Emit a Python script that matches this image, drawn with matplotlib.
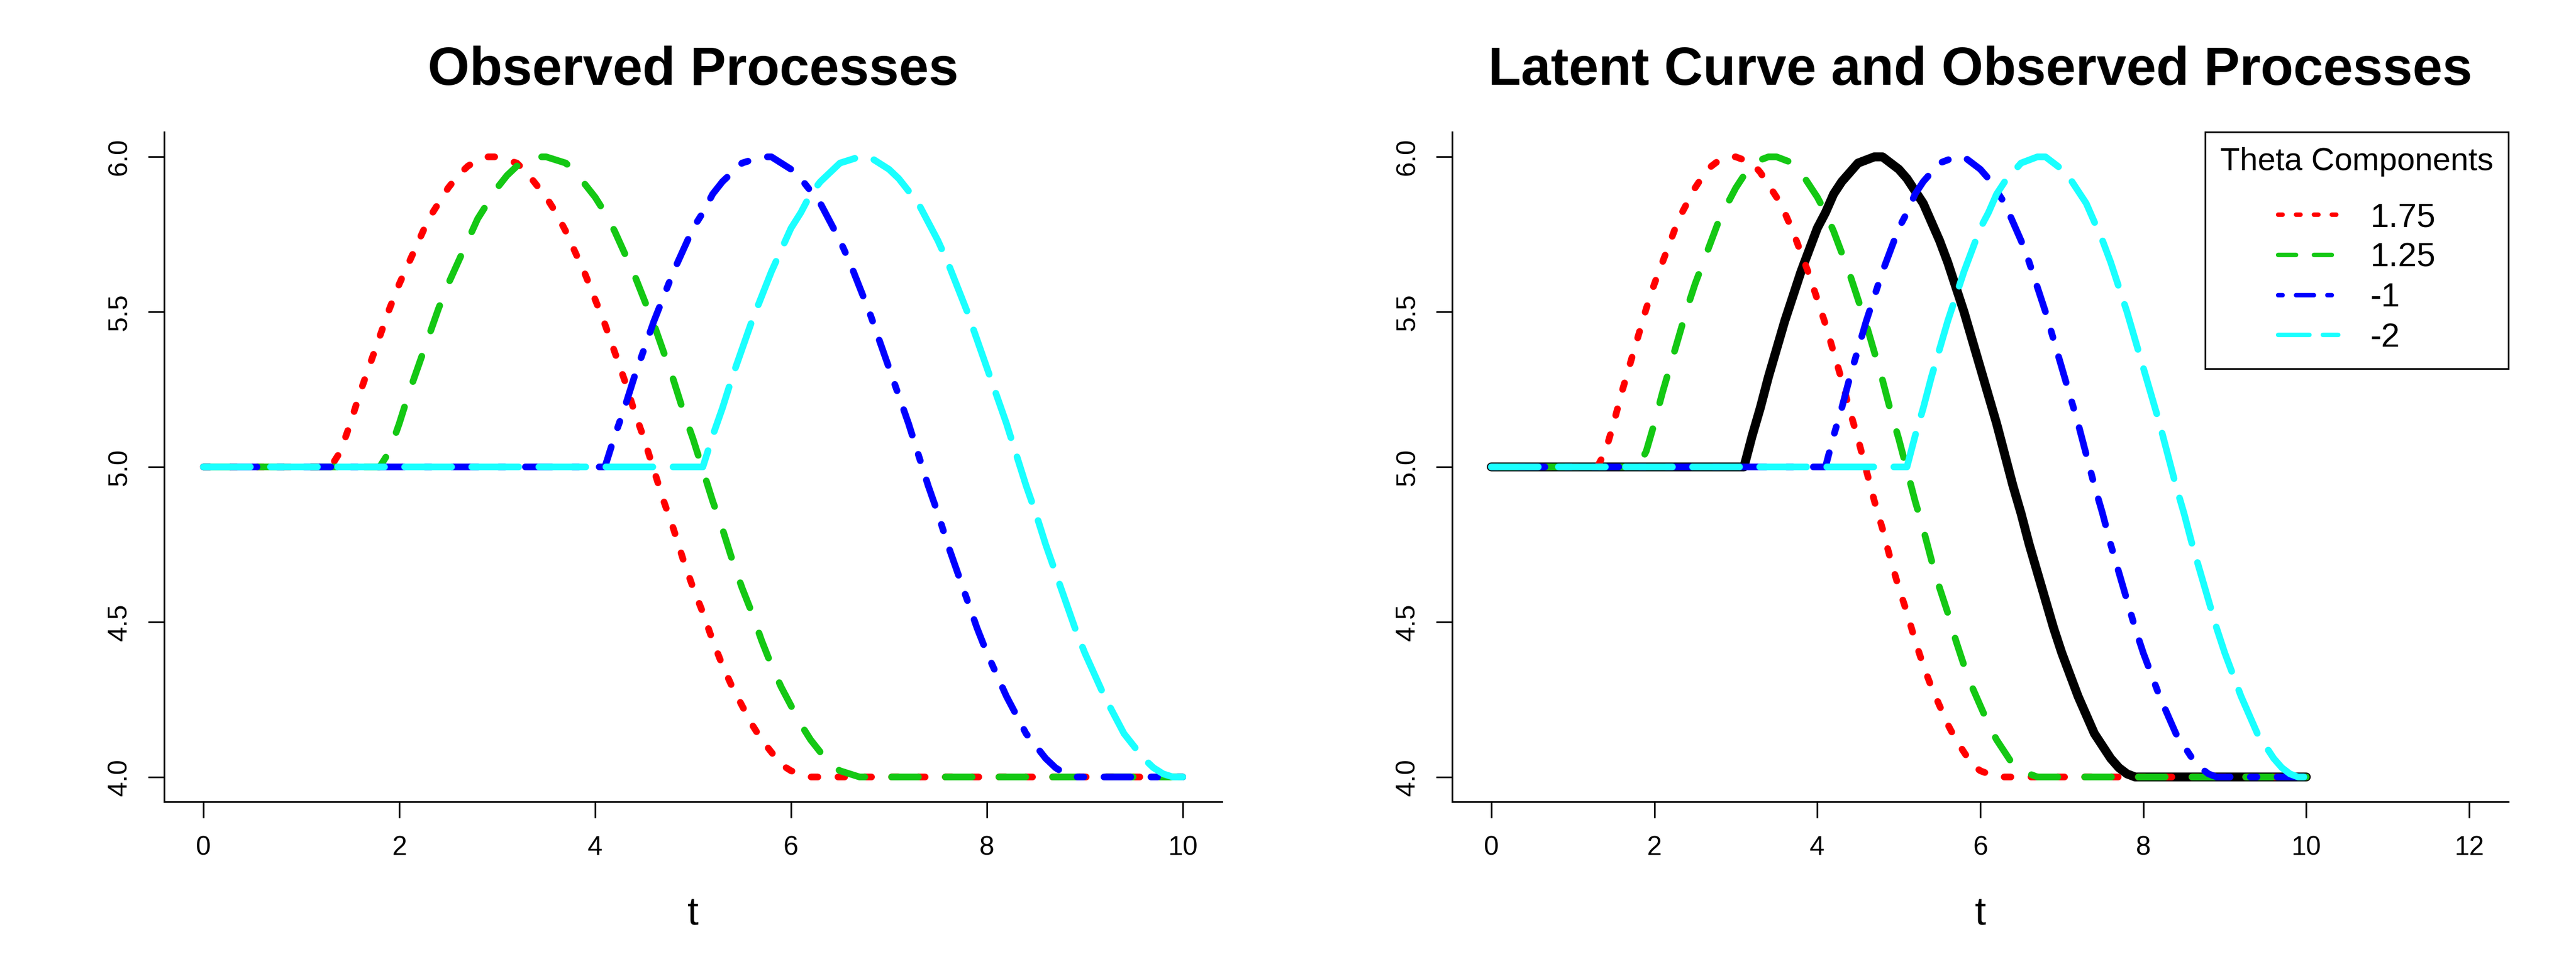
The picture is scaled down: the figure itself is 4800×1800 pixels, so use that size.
import matplotlib
matplotlib.use('Agg')
import matplotlib.pyplot as plt
from matplotlib.lines import Line2D

plt.rcParams['font.family'] = ['Liberation Sans', 'DejaVu Sans']

# time grid (step 0.1) and curve values
t_grid = [0.0, 0.1, 0.2, 0.3, 0.4, 0.5, 0.6, 0.7, 0.8, 0.9,
          1.0, 1.1, 1.2, 1.3, 1.4, 1.5, 1.6, 1.7, 1.8, 1.9,
          2.0, 2.1, 2.2, 2.3, 2.4, 2.5, 2.6, 2.7, 2.8, 2.9,
          3.0, 3.1, 3.2, 3.3, 3.4, 3.5, 3.6, 3.7, 3.8, 3.9,
          4.0, 4.1, 4.2, 4.3, 4.4, 4.5, 4.6, 4.7, 4.8, 4.9,
          5.0, 5.1, 5.2, 5.3, 5.4, 5.5, 5.6, 5.7, 5.8, 5.9,
          6.0, 6.1, 6.2, 6.3, 6.4, 6.5, 6.6, 6.7, 6.8, 6.9,
          7.0, 7.1, 7.2, 7.3, 7.4, 7.5, 7.6, 7.7, 7.8, 7.9,
          8.0, 8.1, 8.2, 8.3, 8.4, 8.5, 8.6, 8.7, 8.8, 8.9,
          9.0, 9.1, 9.2, 9.3, 9.4, 9.5, 9.6, 9.7, 9.8, 9.9, 10.0]

# latent curve (black)
latent = [5.0] * 32 + [5.10, 5.19, 5.29, 5.38, 5.47, 5.55, 5.63, 5.70, 5.77, 5.82,
                       5.88, 5.92, 5.95, 5.98, 5.99, 6.00, 6.00, 5.98, 5.96, 5.93,
                       5.89, 5.85, 5.79, 5.73, 5.66, 5.58, 5.50, 5.41, 5.32, 5.23,
                       5.14, 5.04, 4.94, 4.85, 4.75, 4.66, 4.57, 4.48, 4.40, 4.33,
                       4.26, 4.20, 4.14, 4.10, 4.06, 4.03, 4.01] + [4.0] * 22

# observed processes, theta = 1.75, 1.25, -1, -2
obs_175 = [5.0] * 14 + [5.05, 5.14, 5.24, 5.33, 5.42, 5.51, 5.59, 5.66, 5.73, 5.80,
                        5.85, 5.90, 5.94, 5.97, 5.99, 6.00, 6.00, 5.99, 5.98, 5.95,
                        5.91, 5.87, 5.82, 5.76, 5.69, 5.62, 5.54, 5.46, 5.37, 5.28,
                        5.18, 5.09, 4.99, 4.89, 4.80, 4.70, 4.61, 4.53, 4.44, 4.36,
                        4.29, 4.23, 4.17, 4.12, 4.08, 4.04, 4.02, 4.01] + [4.0] * 39

obs_125 = [5.0] * 19 + [5.05, 5.14, 5.24, 5.33, 5.42, 5.51, 5.59, 5.66, 5.73, 5.80,
                        5.85, 5.90, 5.94, 5.97, 5.99, 6.00, 6.00, 5.99, 5.98, 5.95,
                        5.91, 5.87, 5.82, 5.76, 5.69, 5.62, 5.54, 5.46, 5.37, 5.28,
                        5.18, 5.09, 4.99, 4.89, 4.80, 4.70, 4.61, 4.53, 4.44, 4.36,
                        4.29, 4.23, 4.17, 4.12, 4.08, 4.04, 4.02, 4.01] + [4.0] * 34

obs_m1 = [5.0] * 42 + [5.10, 5.19, 5.29, 5.38, 5.47, 5.55, 5.63, 5.70, 5.77, 5.82,
                       5.88, 5.92, 5.95, 5.98, 5.99, 6.00, 6.00, 5.98, 5.96, 5.93,
                       5.89, 5.85, 5.79, 5.73, 5.66, 5.58, 5.50, 5.41, 5.32, 5.23,
                       5.14, 5.04, 4.94, 4.85, 4.75, 4.66, 4.57, 4.48, 4.40, 4.33,
                       4.26, 4.20, 4.14, 4.10, 4.06, 4.03, 4.01] + [4.0] * 12

obs_m2 = [5.0] * 52 + [5.10, 5.19, 5.29, 5.38, 5.47, 5.55, 5.63, 5.70, 5.77, 5.82,
                       5.88, 5.92, 5.95, 5.98, 5.99, 6.00, 6.00, 5.98, 5.96, 5.93,
                       5.89, 5.85, 5.79, 5.73, 5.66, 5.58, 5.50, 5.41, 5.32, 5.23,
                       5.14, 5.04, 4.94, 4.85, 4.75, 4.66, 4.57, 4.48, 4.40, 4.33,
                       4.26, 4.20, 4.14, 4.10, 4.06, 4.03, 4.01] + [4.0] * 2

theta_labels = ['1.75', '1.25', '-1', '-2']
observed = [obs_175, obs_125, obs_m1, obs_m2]
colors = ['#ff0000', '#14c814', '#0000ff', '#1affff']
# R lty: dotted, dashed, dotdash, longdash
dash_styles = [(1, 3), (4, 4), (1, 3, 4, 3), (7, 3)]

y_ticks = [4.0, 4.5, 5.0, 5.5, 6.0]

fig = plt.figure(figsize=(16, 6), dpi=300)
ax1 = fig.add_axes([0.06375, 0.17, 0.4106, 0.6933])
ax2 = fig.add_axes([0.56375, 0.17, 0.4100, 0.6933])


def style_axes(ax, xmax, title):
    ax.set_xlim(-0.04 * xmax, 1.04 * xmax)
    ax.set_ylim(3.92, 6.08)
    ax.spines['top'].set_visible(False)
    ax.spines['right'].set_visible(False)
    for side in ['left', 'bottom']:
        ax.spines[side].set_linewidth(0.75)
    ax.set_xticks(list(range(0, xmax + 1, 2)))
    ax.set_yticks(y_ticks)
    ax.set_yticklabels(['%.1f' % v for v in y_ticks])
    ax.tick_params(axis='both', direction='out', length=7.2, width=0.75, labelsize=12)
    ax.tick_params(axis='x', pad=8)
    ax.tick_params(axis='y', pad=7.3, labelrotation=90)
    for lab in ax.get_yticklabels():
        lab.set_va('center')
    ax.set_xlabel('t', fontsize=18)
    ax.xaxis.label.set_va('baseline')
    ax.xaxis.set_label_coords(0.5, -0.1835)
    ax.set_title(title, fontsize=24, fontweight='bold', y=1.0705, pad=0, va='baseline')


def draw_observed(ax):
    for y, c, d in zip(observed, colors, dash_styles):
        ax.plot(t_grid, y, color=c, lw=3, dashes=d,
                dash_capstyle='round', dash_joinstyle='round')


# left panel
draw_observed(ax1)
style_axes(ax1, 10, 'Observed Processes')

# right panel
ax2.plot(t_grid, latent, color='black', lw=4,
         solid_capstyle='round', solid_joinstyle='round')
draw_observed(ax2)
style_axes(ax2, 12, 'Latent Curve and Observed Processes')

handles = [Line2D([], [], color=c, lw=2, dashes=d, dash_capstyle='round')
           for c, d in zip(colors, dash_styles)]
leg = ax2.legend(handles, theta_labels, title='Theta Components\n', loc='upper right',
                 borderaxespad=0, fontsize=15, title_fontsize=14.4,
                 borderpad=0.45, labelspacing=0.25, handlelength=1.8,
                 handletextpad=0.94, alignment='center', fancybox=False,
                 framealpha=1, edgecolor='black')
leg.get_title().set_linespacing(0.45)
leg.get_frame().set_linewidth(0.75)

plt.savefig('out.png', dpi=300)
